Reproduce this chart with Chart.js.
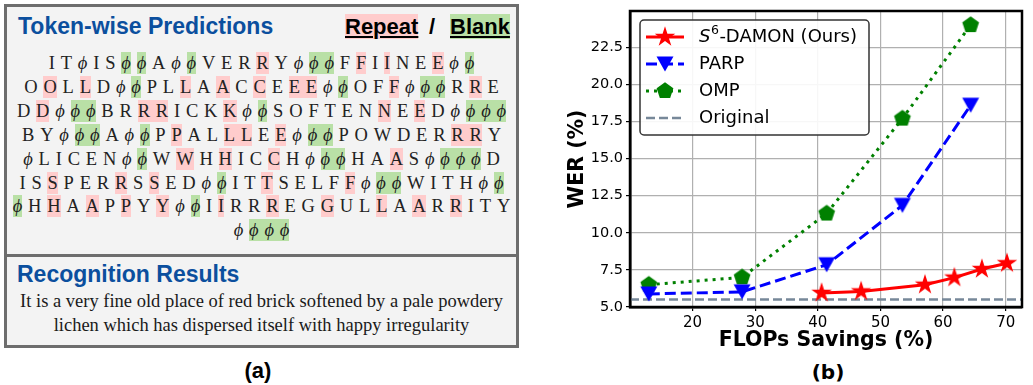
<!DOCTYPE html>
<html>
<head>
<meta charset="utf-8">
<script src="https://cdn.jsdelivr.net/npm/chart.js@4.4.0/dist/chart.umd.min.js"></script>
<style>
  body { margin: 0; width: 1033px; height: 385px; background: #fff; position: relative; overflow: hidden; font-family: "Liberation Sans", Arial, sans-serif; }
  .abs { position: absolute; white-space: nowrap; }
  .hd { position: absolute; font: bold 23px/23px "Liberation Sans", Arial, sans-serif; color: #0b4f9e; white-space: nowrap; }
  .key { position: absolute; height: 25px; font: bold 22px/25px "Liberation Sans", Arial, sans-serif; color: #000; text-decoration: underline; text-decoration-thickness: 2px; text-underline-offset: 2px; }
  .row { position: absolute; left: 7px; width: 509px; height: 22px; display: flex; justify-content: center; font: 18.5px/22px "Liberation Serif", "Times New Roman", serif; color: #222; }
  .row span { display: inline-block; height: 22px; }
  .phi { font-style: italic; font-family: "Liberation Serif", "DejaVu Serif", serif; }
  .r { background: #ffcccc; }
  .g { background: #b9e0a6; }
  #chartB { position: absolute; left: 540px; top: 0; }
</style>
</head>
<body>
<div class="abs" style="left:4px;top:4px;width:509px;height:338px;border:3px solid #6d6d6d;background:#f3f3f3"></div>
<div class="abs" style="left:7px;top:254px;width:509px;height:3px;background:#6d6d6d"></div>

<div class="hd" style="left:18px;top:15px">Token-wise Predictions</div>
<div class="key r" style="left:345px;top:14px">Repeat</div>
<div class="abs" style="left:429px;top:14px;font:bold 22px/25px 'Liberation Sans',Arial,sans-serif">/</div>
<div class="key g" style="left:450px;top:14px">Blank</div>

<div id="tokens"></div>

<div class="hd" style="left:17px;top:263px">Recognition Results</div>
<div class="abs" style="left:7px;top:289px;width:509px;text-align:center;font:18.5px/24.4px 'Liberation Serif','Times New Roman',serif;color:#1a1a1a">It is a very fine old place of red brick softened by a pale powdery<br>lichen which has dispersed itself with happy irregularity</div>

<div class="abs" style="left:208px;top:359px;width:100px;text-align:center;font:bold 22px/24px 'Liberation Sans',Arial,sans-serif">(a)</div>
<div class="abs" style="left:778px;top:360px;width:100px;text-align:center;font:bold 20px/24px 'DejaVu Sans',sans-serif">(b)</div>

<canvas id="chartB" width="493" height="385"></canvas>

<script>
// ----- panel (a): token rows (p = phi, r:/g: = highlighted block) -----
const tokenRows = [
  'I T p I S g:p g:p A p g:p V E R r:R Y p g:pp F r:F I r:I N E r:E p g:p',
  'O r:O L r:L D p g:p P L r:L A r:A C r:C E r:EE p g:p O F r:F p g:pp R r:R E',
  'D r:D p g:pp B R r:RR I C K r:K p g:p S O F T E N r:N E r:E D p g:ppp',
  'B Y p g:pp A p g:p P r:P A L r:LL E r:E p g:pp P O W D E R r:RR Y',
  'p L I C E N p g:p W r:W H r:H I C r:C H p g:pp H A r:A S p g:ppp D',
  'I S r:S P E R r:R S r:S E D p g:p I T r:T S E L F r:F p g:pp W I T H p g:p',
  'g:p H r:H A r:A P r:P Y r:Y p g:p I r:I R R r:R E G r:G U L r:L A r:A R r:R I T Y',
  'p g:ppp'
];

const gap = 5.8;
const tokensDiv = document.getElementById('tokens');

function glyph(ch) {
  const s = document.createElement('span');
  if (ch === 'p') { s.textContent = '\u03D5'; s.className = 'phi'; }
  else s.textContent = ch;
  return s;
}

tokenRows.forEach((row, i) => {
  const div = document.createElement('div');
  div.className = 'row';
  div.style.top = (63.3 - 11 + i * 23.85) + 'px';
  row.split(' ').forEach((grp, j) => {
    if (j > 0) {
      const sp = document.createElement('span');
      sp.style.width = gap + 'px';
      div.appendChild(sp);
    }
    let cls = '';
    let chars = grp;
    if (grp.includes(':')) { cls = grp[0]; chars = grp.slice(2); }
    const block = document.createElement('span');
    block.style.display = 'inline-flex';
    if (cls) block.classList.add(cls);
    [...chars].forEach((ch, k) => {
      if (k > 0) {
        const sp = document.createElement('span');
        sp.style.width = gap + 'px';
        block.appendChild(sp);
      }
      block.appendChild(glyph(ch));
    });
    div.appendChild(block);
  });
  tokensDiv.appendChild(div);
});

// ----- panel (b): data -----
const damonX = [40.6, 46.9, 57.1, 61.8, 66.2, 70.2];
const damonY = [5.95, 6.05, 6.5, 6.98, 7.56, 7.95];
const parpX = [13.0, 27.9, 41.4, 53.5, 64.4];
const parpY = [5.88, 6.02, 7.85, 11.85, 18.6];
const ompX = [13.0, 27.9, 41.4, 53.5, 64.4];
const ompY = [6.5, 7.0, 11.3, 17.7, 24.0];
const originalWER = 5.5;

const xMin = 10.0, xMax = 72.6;
const yMin = 5.0, yMax = 24.95;
const xTicks = [20, 30, 40, 50, 60, 70];
const yTicks = [5.0, 7.5, 10.0, 12.5, 15.0, 17.5, 20.0, 22.5];

const pts = (xs, ys) => xs.map((x, i) => ({ x: x, y: ys[i] }));

// marker images (matplotlib style star / triangle_down / pentagon)
function makeMarker(size, color, draw) {
  const c = document.createElement('canvas');
  c.width = size; c.height = size;
  const g = c.getContext('2d');
  g.translate(size / 2, size / 2);
  g.beginPath();
  draw(g);
  g.closePath();
  g.fillStyle = color;
  g.fill();
  return c;
}

const starImg = makeMarker(24, '#ff0000', g => {
  for (let i = 0; i < 10; i++) {
    const r = i % 2 ? 4.1 : 10.8;
    const a = -Math.PI / 2 + i * Math.PI / 5;
    g.lineTo(r * Math.cos(a), r * Math.sin(a));
  }
});
const triImg = makeMarker(20, '#0000ff', g => {
  g.moveTo(-8.5, -7.5);
  g.lineTo(8.5, -7.5);
  g.lineTo(0, 7.5);
});
const pentImg = makeMarker(20, '#008000', g => {
  for (let i = 0; i < 5; i++) {
    const a = -Math.PI / 2 + i * 2 * Math.PI / 5;
    g.lineTo(8.8 * Math.cos(a), 8.8 * Math.sin(a));
  }
});

// frame + legend box drawn like matplotlib
const boxLegend = {
  id: 'boxLegend',
  afterDatasetsDraw(chart) {
    const ctx = chart.ctx;
    const a = chart.chartArea;
    ctx.save();
    ctx.strokeStyle = '#000';
    ctx.lineWidth = 2.5;
    ctx.setLineDash([]);
    ctx.strokeRect(a.left, a.top, a.right - a.left, a.bottom - a.top);

    const lx = a.left + 10, ly = a.top + 9, lw = 229, lh = 115;
    ctx.beginPath();
    ctx.roundRect(lx, ly, lw, lh, 4);
    ctx.fillStyle = 'rgba(255,255,255,0.9)';
    ctx.fill();
    ctx.strokeStyle = '#333';
    ctx.lineWidth = 1.5;
    ctx.stroke();

    chart.data.datasets.forEach((ds, i) => {
      const y = ly + 17 + i * 27;
      ctx.beginPath();
      ctx.setLineDash(ds.borderDash || []);
      ctx.lineCap = 'butt';
      ctx.strokeStyle = ds.borderColor;
      ctx.lineWidth = ds.borderWidth;
      ctx.moveTo(lx + 6, y);
      ctx.lineTo(lx + 44, y);
      ctx.stroke();
      ctx.setLineDash([]);
      if (ds.pointStyle instanceof HTMLCanvasElement && ds.pointRadius !== 0) {
        const im = ds.pointStyle;
        ctx.drawImage(im, lx + 25 - im.width / 2, y - im.height / 2);
      }
      ctx.fillStyle = '#000';
      ctx.textBaseline = 'middle';
      ctx.textAlign = 'left';
      let tx = lx + 59;
      if (i === 0) {
        ctx.font = 'italic 18px "DejaVu Sans"';
        ctx.fillText('S', tx, y);
        tx += ctx.measureText('S').width + 0.5;
        ctx.font = '12.5px "DejaVu Sans"';
        ctx.fillText('6', tx, y - 6);
        tx += ctx.measureText('6').width + 0.5;
        ctx.font = '18px "DejaVu Sans"';
        ctx.fillText('-DAMON (Ours)', tx, y);
      } else {
        ctx.font = '18px "DejaVu Sans"';
        ctx.fillText(ds.label, tx, y);
      }
    });
    ctx.restore();
  }
};

Chart.defaults.font.family = '"DejaVu Sans", sans-serif';
Chart.defaults.color = '#000';

new Chart(document.getElementById('chartB').getContext('2d'), {
  type: 'line',
  data: {
    datasets: [
      {
        label: 'S6-DAMON (Ours)',
        data: pts(damonX, damonY),
        borderColor: '#ff0000',
        backgroundColor: '#ff0000',
        borderWidth: 3,
        pointStyle: starImg,
        order: 0
      },
      {
        label: 'PARP',
        data: pts(parpX, parpY),
        borderColor: '#0000ff',
        backgroundColor: '#0000ff',
        borderWidth: 3,
        borderDash: [11, 5],
        pointStyle: triImg,
        order: 1
      },
      {
        label: 'OMP',
        data: pts(ompX, ompY),
        borderColor: '#008000',
        backgroundColor: '#008000',
        borderWidth: 3,
        borderDash: [3, 5],
        pointStyle: pentImg,
        order: 2
      },
      {
        label: 'Original',
        data: [{ x: xMin, y: originalWER }, { x: xMax, y: originalWER }],
        borderColor: '#778899',
        borderWidth: 2.5,
        borderDash: [9, 4],
        pointRadius: 0,
        order: 3
      }
    ]
  },
  options: {
    responsive: false,
    animation: false,
    devicePixelRatio: 1,
    layout: { padding: { left: 25, right: 3, top: 9, bottom: 32 } },
    elements: { line: { tension: 0 }, point: { radius: 8, hoverRadius: 8 } },
    plugins: {
      legend: { display: false },
      tooltip: { enabled: false }
    },
    scales: {
      x: {
        type: 'linear',
        min: xMin,
        max: xMax,
        afterBuildTicks: axis => { axis.ticks = xTicks.map(v => ({ value: v })); },
        afterFit: s => { s.height = 46; s.paddingLeft = 0; s.paddingRight = 0; },
        ticks: { font: { size: 15 }, padding: 3, maxRotation: 0, callback: v => String(v) },
        grid: { color: '#b0b0b0', lineWidth: 1.2, drawTicks: true, tickLength: 4, tickColor: '#000', tickWidth: 1.2 },
        border: { display: true, color: '#000', width: 2.5 },
        title: { display: true, text: 'FLOPs Savings (%)', font: { size: 20.5, weight: 'bold' }, padding: 0 }
      },
      y: {
        min: yMin,
        max: yMax,
        afterBuildTicks: axis => { axis.ticks = yTicks.map(v => ({ value: v })); },
        afterFit: s => { s.width = 65; s.paddingTop = 0; s.paddingBottom = 0; },
        ticks: { font: { size: 14.5 }, padding: 3, callback: v => Number(v).toFixed(1) },
        grid: { color: '#b0b0b0', lineWidth: 1.2, drawTicks: true, tickLength: 4, tickColor: '#000', tickWidth: 1.2 },
        border: { display: true, color: '#000', width: 2.5 },
        title: { display: true, text: 'WER (%)', font: { size: 20.5, weight: 'bold' }, padding: 0 }
      }
    }
  },
  plugins: [boxLegend]
});
</script>
</body>
</html>
